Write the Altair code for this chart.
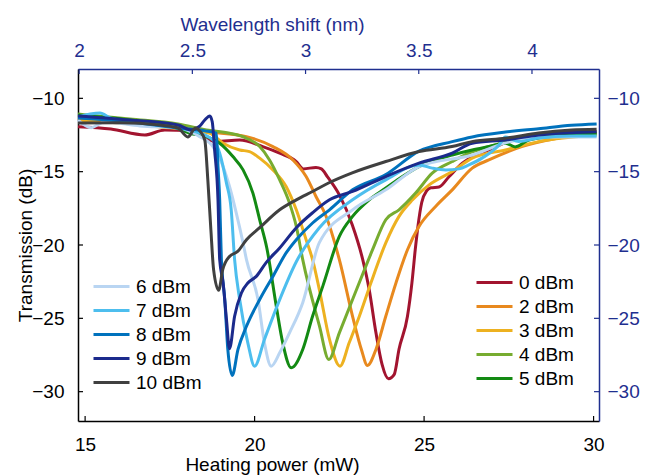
import altair as alt
import pandas as pd

FONT = "Liberation Sans"
AXIS_BLUE = "#1f2f8f"
FS = 19

# Plot-area size in pixels and the data ranges of the four axes
W, H = 521, 352
power_domain = [14.79, 30.16]
trans_domain = [-32, -8]
shift_domain = [1.995, 4.296]

power_ticks = [15, 20, 25, 30]
trans_ticks = [-30, -25, -20, -15, -10]
shift_ticks = [2, 2.5, 3, 3.5, 4]

labels_low = ["0 dBm", "2 dBm", "3 dBm", "4 dBm", "5 dBm"]
labels_high = ["6 dBm", "7 dBm", "8 dBm", "9 dBm", "10 dBm"]
colors_low = ["#A2142F", "#E8891E", "#EDB120", "#77AC30", "#138A13"]
colors_high = ["#B9D5F2", "#4DBEEE", "#0072BD", "#1B2A8C", "#404040"]

# (heating power in mW, transmission in dB) for each input power
curve_0dbm = [(14.79, -11.93), (15.76, -12.09), (16.76, -12.5), (17.35, -12.16), (18.03, -12.2),
              (18.87, -12.95), (19.56, -12.84), (20.24, -13.29), (20.74, -13.74), (21.23, -14.31),
              (21.44, -14.81), (21.81, -14.71), (21.97, -14.81), (22.15, -15.35), (22.5, -16.58),
              (22.88, -18.62), (23.19, -21.0), (23.38, -23.04), (23.58, -25.99), (23.76, -28.14),
              (23.95, -29.12), (24.12, -28.82), (24.26, -27.11), (24.51, -24.86), (24.64, -22.6),
              (24.74, -20.3), (24.82, -18.7), (24.93, -17.1), (25.08, -16.3), (25.2, -16.1),
              (25.44, -16.05), (25.74, -15.33), (26.13, -14.42), (26.91, -13.52), (27.88, -12.61),
              (28.76, -12.36), (30.09, -12.27)]
curve_2dbm = [(14.79, -11.48), (16.32, -11.61), (17.5, -11.82), (18.09, -12.1), (18.58, -12.27),
              (19.76, -12.61), (20.54, -13.29), (21.13, -14.2), (21.52, -15.33), (21.81, -16.69),
              (22.09, -17.94), (22.5, -21.0), (22.89, -24.86), (23.15, -27.12), (23.33, -28.21),
              (23.58, -27.12), (23.87, -24.86), (24.17, -22.59), (24.51, -20.32), (24.85, -18.73),
              (25.34, -17.37), (25.83, -16.24), (26.42, -14.76), (26.91, -14.2), (27.88, -13.29),
              (28.97, -12.7), (30.09, -12.36)]
curve_3dbm = [(14.79, -11.54), (16.03, -11.68), (17.21, -11.95), (18.09, -12.16), (18.68, -12.38),
              (19.07, -13.06), (19.56, -13.52), (19.85, -13.63), (20.15, -14.08), (20.54, -14.88),
              (20.93, -16.01), (21.23, -17.6), (21.52, -19.64), (21.71, -21.0), (21.91, -23.04),
              (22.21, -26.44), (22.52, -28.26), (22.79, -26.67), (23.09, -24.86), (23.43, -22.59),
              (23.87, -19.86), (24.26, -18.05), (24.66, -16.92), (25.15, -15.9), (25.83, -14.99),
              (26.42, -14.08), (27.4, -13.52), (28.38, -12.95), (30.09, -12.5)]
curve_4dbm = [(14.79, -11.07), (16.32, -11.41), (17.74, -11.75), (18.58, -12.16), (19.26, -12.38),
              (19.76, -12.72), (20.15, -13.29), (20.44, -14.2), (20.74, -15.56), (21.03, -17.14),
              (21.23, -18.73), (21.42, -21.0), (21.91, -25.5), (22.19, -27.8), (22.5, -25.99),
              (22.89, -23.72), (23.28, -21.46), (23.48, -20.32), (23.87, -18.28), (24.26, -17.6),
              (24.75, -16.46), (25.24, -15.1), (25.83, -14.31), (26.32, -13.74), (26.91, -13.29),
              (28.38, -12.61), (30.09, -12.5)]
curve_5dbm = [(14.79, -11.14), (16.32, -11.48), (17.5, -11.88), (18.09, -12.38), (18.58, -12.61),
              (18.97, -13.06), (19.36, -13.97), (19.66, -14.88), (19.95, -16.46), (20.15, -18.28),
              (20.36, -20.2), (20.64, -24.18), (20.83, -26.67), (21.08, -28.37), (21.42, -27.12),
              (21.71, -24.86), (22.01, -22.82), (22.5, -19.41), (22.89, -18.05), (23.38, -16.92),
              (23.87, -16.12), (24.36, -15.33), (24.85, -14.65), (25.34, -14.2), (25.83, -13.86),
              (26.42, -13.52), (26.91, -13.29), (27.4, -13.06), (27.69, -13.31), (28.09, -12.84),
              (28.97, -12.56), (29.85, -12.43), (30.09, -12.36)]
curve_6dbm = [(14.79, -11.48), (15.18, -12.0), (15.56, -11.61), (16.62, -11.88), (17.79, -12.04),
              (18.38, -12.61), (18.77, -13.29), (19.07, -14.65), (19.26, -16.01), (19.46, -17.82),
              (19.66, -19.86), (19.76, -21.0), (20.1, -23.72), (20.29, -26.67), (20.49, -28.26),
              (20.74, -27.35), (21.03, -25.99), (21.42, -23.93), (21.91, -19.84), (22.89, -17.6),
              (23.87, -16.24), (24.85, -14.65), (26.42, -13.86), (27.4, -13.04), (28.38, -12.63),
              (30.09, -12.63)]
curve_7dbm = [(14.79, -11.27), (15.15, -11.07), (15.44, -11.0), (15.74, -11.34), (16.91, -11.75),
              (18.09, -12.16), (18.77, -12.84), (18.97, -13.74), (19.17, -15.78), (19.31, -17.6),
              (19.41, -21.0), (19.56, -23.72), (19.8, -26.67), (20.0, -28.26), (20.29, -26.44),
              (20.74, -23.72), (21.23, -21.14), (21.91, -18.82), (22.89, -16.92), (23.87, -15.56),
              (24.85, -14.54), (25.24, -14.76), (25.64, -14.88), (26.03, -14.81), (26.32, -14.54),
              (26.72, -14.06), (27.21, -13.18), (27.4, -12.63), (27.79, -12.95), (28.38, -12.7),
              (29.35, -12.56), (30.09, -12.56)]
curve_8dbm = [(14.79, -11.34), (16.32, -11.61), (17.79, -12.04), (18.53, -12.22), (18.87, -12.38),
              (18.92, -14.65), (18.97, -16.92), (19.02, -21.0), (19.12, -23.72), (19.21, -27.12),
              (19.34, -28.89), (19.51, -27.12), (19.76, -25.54), (20.15, -23.72), (20.54, -22.14),
              (20.93, -20.54), (21.23, -19.64), (21.71, -18.5), (22.21, -17.6), (22.89, -16.24),
              (23.87, -15.2), (24.85, -13.6), (25.83, -12.95), (26.42, -12.63), (27.4, -12.3),
              (28.38, -12.07), (29.35, -11.84), (30.09, -11.75)]
curve_9dbm = [(14.79, -11.2), (16.32, -11.48), (17.74, -11.82), (18.12, -12.16), (18.38, -11.9),
              (18.53, -11.48), (18.68, -11.2), (18.75, -11.6), (18.82, -13.52), (18.92, -16.92),
              (18.97, -21.0), (19.07, -22.56), (19.17, -25.08), (19.26, -27.07), (19.41, -24.86),
              (19.61, -23.27), (19.8, -22.59), (20.05, -22.14), (20.34, -21.2), (20.74, -20.2),
              (21.23, -18.82), (21.71, -17.8), (22.21, -16.92), (22.89, -16.35), (23.87, -15.33),
              (24.85, -14.42), (25.83, -13.74), (26.42, -13.06), (27.4, -12.84), (28.38, -12.5),
              (29.35, -12.34), (30.09, -12.27)]
curve_10dbm = [(14.79, -11.68), (16.03, -11.66), (17.21, -11.82), (17.74, -12.02), (18.03, -12.63),
               (18.26, -12.02), (18.38, -12.22), (18.53, -12.84), (18.62, -15.56), (18.71, -18.96),
               (18.79, -21.68), (18.94, -23.09), (19.06, -21.68), (19.26, -20.78), (19.5, -20.44),
               (19.76, -19.64), (20.15, -18.82), (20.74, -17.6), (21.23, -16.92), (21.71, -16.35),
               (22.21, -15.74), (22.88, -15.08), (23.87, -14.31), (24.85, -13.63), (25.82, -13.29),
               (26.41, -12.95), (27.4, -12.72), (28.38, -12.36), (29.35, -12.16), (30.09, -12.11)]

curves_low = [curve_0dbm, curve_2dbm, curve_3dbm, curve_4dbm, curve_5dbm]
curves_high = [curve_6dbm, curve_7dbm, curve_8dbm, curve_9dbm, curve_10dbm]


def to_frame(labels, curves):
    rows = []
    for label, pts in zip(labels, curves):
        for p, t in pts:
            rows.append({"series": label, "power": p, "trans": t})
    return pd.DataFrame(rows)


df_low = to_frame(labels_low, curves_low)
df_high = to_frame(labels_high, curves_high)

power_scale = alt.Scale(domain=power_domain, nice=False, zero=False)
trans_scale = alt.Scale(domain=trans_domain, nice=False, zero=False)
shift_scale = alt.Scale(domain=shift_domain, nice=False, zero=False)

# Plain number labels, with a true minus sign for negative values
label_expr = "datum.value < 0 ? '\u2212' + abs(datum.value) : datum.value + ''"


def legend(x, y):
    return alt.Legend(
        title=None, orient="none", legendX=x, legendY=y, padding=0,
        symbolType="stroke", symbolSize=1296, symbolStrokeWidth=3,
        labelFont=FONT, labelFontSize=FS, labelColor="black", labelOffset=5,
        rowPadding=4, clipHeight=19,
    )


bottom_axis = alt.Axis(
    values=power_ticks, labelExpr=label_expr, ticks=False, tickSize=0, grid=False,
    domainColor="black", domainWidth=1.5, labelFont=FONT, labelFontSize=FS, labelColor="black",
    labelPadding=14, title="Heating power (mW)", titleFont=FONT, titleFontSize=FS,
    titleFontWeight="normal", titleColor="black", titleX=194, titleY=49,
    titleAlign="center", titleBaseline="alphabetic",
)
left_axis = alt.Axis(
    values=trans_ticks, labelExpr=label_expr, ticks=False, tickSize=0, grid=False,
    domainColor="black", domainWidth=1.5, labelFont=FONT, labelFontSize=FS, labelColor="black",
    labelPadding=14, title="Transmission (dB)", titleFont=FONT, titleFontSize=FS,
    titleFontWeight="normal", titleColor="black", titleX=-47, titleY=H / 2,
    titleAlign="center", titleBaseline="alphabetic",
)
top_axis = alt.Axis(
    orient="top", values=shift_ticks, labelExpr=label_expr, ticks=False, tickSize=0, grid=False,
    domainColor=AXIS_BLUE, domainWidth=1.5, labelFont=FONT, labelFontSize=FS, labelColor=AXIS_BLUE,
    labelPadding=9, title="Wavelength shift (nm)", titleFont=FONT, titleFontSize=FS,
    titleFontWeight="normal", titleColor=AXIS_BLUE, titleX=194, titleY=-39,
    titleAlign="center", titleBaseline="alphabetic",
)
right_axis = alt.Axis(
    orient="right", values=trans_ticks, labelExpr=label_expr, ticks=False, tickSize=0, grid=False,
    domainColor=AXIS_BLUE, domainWidth=1.5, labelFont=FONT, labelFontSize=FS, labelColor=AXIS_BLUE,
    labelPadding=8, title=None,
)

lines_low = alt.Chart(df_low).mark_line(strokeWidth=3, interpolate="monotone").encode(
    x=alt.X("power:Q", scale=power_scale, axis=None),
    y=alt.Y("trans:Q", scale=trans_scale, axis=None),
    color=alt.Color("series:N", scale=alt.Scale(domain=labels_low, range=colors_low),
                    legend=legend(397, 204)),
)
lines_high = alt.Chart(df_high).mark_line(strokeWidth=3, interpolate="monotone").encode(
    x=alt.X("power:Q", scale=power_scale, axis=bottom_axis),
    y=alt.Y("trans:Q", scale=trans_scale, axis=left_axis),
    color=alt.Color("series:N", scale=alt.Scale(domain=labels_high, range=colors_high),
                    legend=legend(14, 208)),
)

# Inward-pointing tick marks on all four sides
TICK = 5
bottom_ticks = alt.Chart(pd.DataFrame({"power": power_ticks})).mark_rule(
    color="black", strokeWidth=1.2).encode(
    x=alt.X("power:Q", scale=power_scale, axis=None),
    y=alt.value(H), y2=alt.value(H - TICK))
left_ticks = alt.Chart(pd.DataFrame({"trans": trans_ticks})).mark_rule(
    color="black", strokeWidth=1.2).encode(
    y=alt.Y("trans:Q", scale=trans_scale, axis=None),
    x=alt.value(0), x2=alt.value(TICK))
top_ticks = alt.Chart(pd.DataFrame({"shift": shift_ticks})).mark_rule(
    color=AXIS_BLUE, strokeWidth=1.2).encode(
    x=alt.X("shift:Q", scale=shift_scale, axis=top_axis),
    y=alt.value(0), y2=alt.value(TICK))
right_ticks = alt.Chart(pd.DataFrame({"trans": trans_ticks})).mark_rule(
    color=AXIS_BLUE, strokeWidth=1.2).encode(
    y=alt.Y("trans:Q", scale=trans_scale, axis=right_axis),
    x=alt.value(W - TICK), x2=alt.value(W))

chart = alt.layer(
    lines_low, lines_high, bottom_ticks, left_ticks, top_ticks, right_ticks
).resolve_scale(
    x="independent", y="independent", color="independent"
).properties(
    width=W, height=H,
    autosize=alt.AutoSizeParams(type="none"),
    padding={"left": 78, "top": 69, "right": 52, "bottom": 55},
    background="white",
).configure_view(stroke=None)

chart.save("out.html", embed_options={"renderer": "svg", "actions": False})
